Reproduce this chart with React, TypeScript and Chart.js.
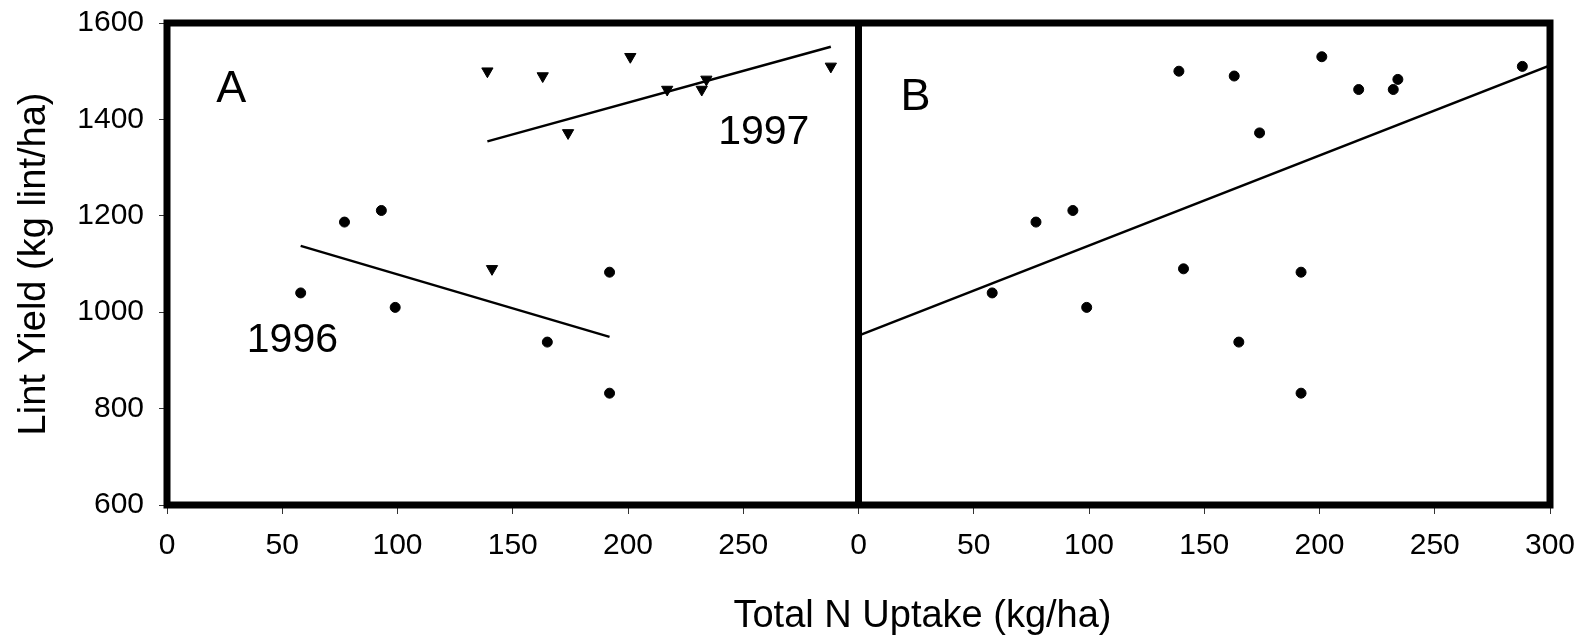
import React, { useEffect, useRef } from 'react';
import { Chart, registerables } from 'chart.js';

Chart.register(...registerables);

// ---- data ----
const uptake1996 = [58, 77, 93, 99, 165, 192, 192];
const yield1996 = [1040, 1187, 1211, 1010, 938, 1083, 832];
const uptake1997 = [139, 141, 163, 174, 201, 217, 232, 234, 288];
const yield1997 = [1500, 1090, 1490, 1372, 1530, 1462, 1462, 1483, 1510];
const xTicks = [0, 50, 100, 150, 200, 250, 300];
const yTicks = [600, 800, 1000, 1200, 1400, 1600];
const panelNames = ['A', 'B'];
const yearNames = ['1996', '1997'];
const xTitle = 'Total N Uptake (kg/ha)';
const yTitle = 'Lint Yield (kg lint/ha)';

// ---- layout / style constants ----
const W = 1589;
const H = 641;
const FONT = "'Liberation Sans', Arial, Helvetica, sans-serif";

function fit(xs: number[], ys: number[]) {
  const n = xs.length;
  const mx = xs.reduce((a, b) => a + b, 0) / n;
  const my = ys.reduce((a, b) => a + b, 0) / n;
  let sxx = 0;
  let sxy = 0;
  for (let i = 0; i < n; i++) {
    sxx += (xs[i] - mx) * (xs[i] - mx);
    sxy += (xs[i] - mx) * (ys[i] - my);
  }
  const b = sxy / sxx;
  const a = my - b * mx;
  return (x: number) => a + b * x;
}

function pts(xs: number[], ys: number[]) {
  return xs.map((x, i) => ({ x, y: ys[i] }));
}

function lineSeg(f: (x: number) => number, x0: number, x1: number) {
  return [
    { x: x0, y: f(x0) },
    { x: x1, y: f(x1) },
  ];
}

export default function App() {
  const ref = useRef<HTMLCanvasElement>(null);

  useEffect(() => {
    const canvas = ref.current!;
    const f96 = fit(uptake1996, yield1996);
    const f97 = fit(uptake1997, yield1997);
    const allX = [...uptake1996, ...uptake1997];
    const allY = [...yield1996, ...yield1997];
    const fAll = fit(allX, allY);

    const annotations = [
      { text: panelNames[0], axis: 'xA', x: 27.9, y: 1436, size: 45 },
      { text: yearNames[0], axis: 'xA', x: 54.4, y: 918, size: 41 },
      { text: yearNames[1], axis: 'xA', x: 258.9, y: 1350, size: 41 },
      { text: panelNames[1], axis: 'xB', x: 24.7, y: 1419, size: 45 },
    ];

    const framePlugin = {
      id: 'frames',
      afterDraw(chart: any) {
        const { ctx, chartArea, scales } = chart;
        const xA = scales.xA;
        const xB = scales.xB;
        const y = scales.y;
        ctx.save();
        // annotations
        ctx.fillStyle = '#000';
        ctx.textAlign = 'center';
        ctx.textBaseline = 'alphabetic';
        for (const a of annotations) {
          ctx.font = `${a.size}px ${FONT}`;
          const s = scales[a.axis];
          ctx.fillText(a.text, s.getPixelForValue(a.x), y.getPixelForValue(a.y));
        }
        // x axis title
        ctx.font = `38px ${FONT}`;
        ctx.fillText(xTitle, xB.left + 64, chartArea.bottom + 122);
        // frames
        ctx.strokeStyle = '#000';
        ctx.lineWidth = 7;
        ctx.lineJoin = 'miter';
        ctx.strokeRect(xA.left, chartArea.top, xB.right - xA.left, chartArea.bottom - chartArea.top);
        ctx.beginPath();
        ctx.moveTo(xA.right, chartArea.top);
        ctx.lineTo(xA.right, chartArea.bottom);
        ctx.stroke();
        ctx.restore();
      },
    };

    const xScale = (hideLast: boolean) => ({
      type: 'linear',
      position: 'bottom',
      stack: 'panels',
      stackWeight: 1,
      min: xTicks[0],
      max: xTicks[xTicks.length - 1],
      afterBuildTicks: (s: any) => {
        s.ticks = xTicks.map((v) => ({ value: v }));
      },
      afterFit: (s: any) => {
        s.height = 136;
        s.paddingLeft = 0;
        s.paddingRight = 0;
      },
      border: { display: false },
      grid: { drawOnChartArea: false, drawTicks: true, tickLength: 9, color: '#333', lineWidth: 1 },
      ticks: {
        autoSkip: false,
        maxRotation: 0,
        padding: 14,
        color: '#000',
        font: { size: 30, family: FONT },
        callback: (v: any) => (hideLast && v === xTicks[xTicks.length - 1] ? '' : String(v)),
      },
    });

    const circle = {
      pointStyle: 'circle',
      pointRadius: 5,
      pointBorderWidth: 1,
      pointBackgroundColor: '#000',
      pointBorderColor: '#000',
      showLine: false,
    };
    const lineStyle = {
      showLine: true,
      pointRadius: 0,
      borderColor: '#000',
      borderWidth: 2.5,
      fill: false,
    };

    const chart = new Chart(canvas, {
      type: 'scatter',
      data: {
        datasets: [
          { ...circle, xAxisID: 'xA', yAxisID: 'y', data: pts(uptake1996, yield1996) },
          {
            xAxisID: 'xA',
            yAxisID: 'y',
            data: pts(uptake1997, yield1997),
            pointStyle: 'triangle',
            rotation: 180,
            pointRadius: 6.5,
            pointBorderWidth: 1,
            pointBackgroundColor: '#000',
            pointBorderColor: '#000',
            showLine: false,
          },
          {
            ...lineStyle,
            xAxisID: 'xA',
            yAxisID: 'y',
            data: lineSeg(f96, Math.min(...uptake1996), Math.max(...uptake1996)),
          },
          {
            ...lineStyle,
            xAxisID: 'xA',
            yAxisID: 'y',
            data: lineSeg(f97, Math.min(...uptake1997), Math.max(...uptake1997)),
          },
          { ...circle, xAxisID: 'xB', yAxisID: 'y', data: pts(allX, allY) },
          {
            ...lineStyle,
            xAxisID: 'xB',
            yAxisID: 'y',
            data: lineSeg(fAll, xTicks[0], xTicks[xTicks.length - 1]),
          },
        ] as any,
      },
      options: {
        responsive: false,
        animation: false,
        devicePixelRatio: 1,
        layout: { padding: { left: 0, top: 23, right: 39, bottom: 0 } },
        plugins: { legend: { display: false }, tooltip: { enabled: false } },
        scales: {
          xA: xScale(true),
          xB: xScale(false),
          y: {
            type: 'linear',
            position: 'left',
            min: yTicks[0],
            max: yTicks[yTicks.length - 1],
            afterBuildTicks: (s: any) => {
              s.ticks = yTicks.map((v) => ({ value: v }));
            },
            afterFit: (s: any) => {
              s.width = 167;
              s.paddingTop = 0;
              s.paddingBottom = 0;
            },
            border: { display: false },
            grid: { drawOnChartArea: false, drawTicks: true, tickLength: 8, color: '#333', lineWidth: 1 },
            ticks: {
              padding: 15,
              color: '#000',
              font: { size: 30, family: FONT },
              callback: (v: any) => String(v),
            },
            title: {
              display: true,
              text: yTitle,
              color: '#000',
              font: { size: 38, family: FONT },
              padding: { top: 12, bottom: 0 },
            },
          },
        } as any,
      },
      plugins: [framePlugin],
    });
    return () => chart.destroy();
  }, []);

  return (
    <div style={{ position: 'fixed', left: 0, top: 0, width: W, height: H, background: '#fff' }}>
      <canvas ref={ref} width={W} height={H} style={{ display: 'block', width: W, height: H }} />
    </div>
  );
}
